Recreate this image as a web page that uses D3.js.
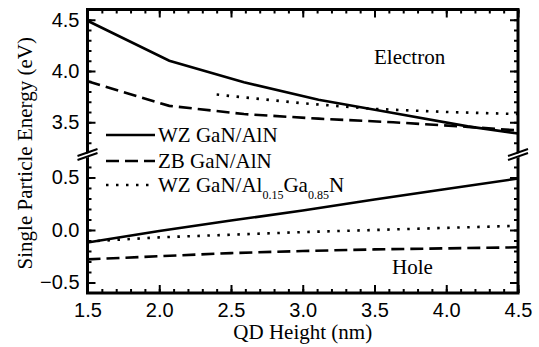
<!DOCTYPE html>
<html>
<head>
<meta charset="utf-8">
<script src="https://cdn.jsdelivr.net/npm/d3@7"></script>
<style>
  body { margin: 0; background: #fff; }
  svg { display: block; }
  .tick text { font-family: "Liberation Sans", Arial, sans-serif; font-size: 20px; fill: #000; }
</style>
</head>
<body>
<div id="chart"></div>
<script>
// QD height (nm) grid of the computed points
const heights = [1.5, 2.07, 2.59, 3.11, 3.63, 4.15, 4.5];
const heightsAlGaN = [2.4, 3.0, 3.5, 4.0, 4.5];

// electron levels (eV)
const wzElectron = [4.49, 4.10, 3.89, 3.72, 3.59, 3.46, 3.39];
const zbElectron = [3.90, 3.66, 3.58, 3.535, 3.50, 3.455, 3.42];
const alganElectron = [3.77, 3.685, 3.63, 3.60, 3.58];

// hole levels (eV)
const heightsHole = [1.5, 2.0, 2.5, 3.0, 3.5, 4.0, 4.5];
const wzHole = [-0.12, -0.01, 0.09, 0.185, 0.29, 0.39, 0.49];
const zbHole = [-0.28, -0.25, -0.22, -0.20, -0.185, -0.175, -0.165];
const alganHole = [-0.11, -0.07, -0.045, -0.02, 0.0, 0.02, 0.04];

const xTicks = [1.5, 2.0, 2.5, 3.0, 3.5, 4.0, 4.5];
const yTicksTop = [3.5, 4.0, 4.5];
const yTicksBot = [-0.5, 0.0, 0.5];

const W = 539, H = 347;
const mLeft = 87.5, mRight = 518, mTop = 9.5, mBottom = 293, brk = 153;
const SERIF = "'Liberation Serif', 'Times New Roman', Times, serif";

const svg = d3.select("#chart").append("svg")
  .attr("width", W)
  .attr("height", H);

const x = d3.scaleLinear().domain([1.5, 4.5]).range([mLeft, mRight]);
const yTop = d3.scaleLinear().domain([3.2, 4.6]).range([brk, mTop]);
const yBot = d3.scaleLinear().domain([-0.6, 0.733]).range([mBottom, brk]);

const minor = (a, b) => d3.range(Math.round(a * 10), Math.round(b * 10) + 1).map(v => v / 10);

// ticks
function tickAxis(axis, tr, size, labels) {
  const g = svg.append("g").attr("transform", tr).call(axis.tickSizeInner(size).tickSizeOuter(0).tickPadding(8));
  g.select(".domain").remove();
  g.selectAll(".tick line").attr("stroke", "#000").attr("stroke-width", 2);
  if (!labels) g.selectAll(".tick text").remove();
  return g;
}

const xMinor = minor(1.5, 4.5);
tickAxis(d3.axisBottom(x).tickValues(xMinor), `translate(0,${mBottom})`, -4, false);
tickAxis(d3.axisBottom(x).tickValues(xTicks).tickFormat(d3.format(".1f")), `translate(0,${mBottom})`, -8, true)
  .selectAll(".tick text").attr("dy", "0.8em");
tickAxis(d3.axisTop(x).tickValues(xMinor), `translate(0,${mTop})`, -4, false);
tickAxis(d3.axisTop(x).tickValues(xTicks), `translate(0,${mTop})`, -8, false);

const topMinor = minor(3.3, 4.5).filter(v => Math.abs(yTop(v) - brk) > 6);
const botMinor = minor(-0.5, 0.7).filter(v => Math.abs(yBot(v) - brk) > 6);
[[yTop, topMinor, yTicksTop], [yBot, botMinor, yTicksBot]].forEach(([s, mn, mj]) => {
  tickAxis(d3.axisLeft(s).tickValues(mn), `translate(${mLeft},0)`, -4, false);
  tickAxis(d3.axisLeft(s).tickValues(mj).tickFormat(d3.format(".1f")), `translate(${mLeft},0)`, -8, true);
  tickAxis(d3.axisRight(s).tickValues(mn), `translate(${mRight},0)`, -4, false);
  tickAxis(d3.axisRight(s).tickValues(mj), `translate(${mRight},0)`, -8, false);
});

// frame
svg.append("rect")
  .attr("x", mLeft).attr("y", mTop)
  .attr("width", mRight - mLeft).attr("height", mBottom - mTop)
  .attr("fill", "none").attr("stroke", "#000").attr("stroke-width", 3);

// series
const styles = {
  solid: null,
  dashed: "13,6",
  dotted: "2.5,7.5"
};
const series = [
  { xs: heights, ys: wzElectron, s: yTop, dash: styles.solid },
  { xs: heights, ys: zbElectron, s: yTop, dash: styles.dashed },
  { xs: heightsAlGaN, ys: alganElectron, s: yTop, dash: styles.dotted },
  { xs: heightsHole, ys: wzHole, s: yBot, dash: styles.solid },
  { xs: heightsHole, ys: zbHole, s: yBot, dash: styles.dashed },
  { xs: heightsHole, ys: alganHole, s: yBot, dash: styles.dotted }
];
series.forEach(d => {
  const line = d3.line().x(p => x(p[0])).y(p => d.s(p[1]));
  svg.append("path")
    .datum(d3.zip(d.xs, d.ys))
    .attr("d", line)
    .attr("fill", "none")
    .attr("stroke", "#000")
    .attr("stroke-width", 2.6)
    .attr("stroke-dasharray", d.dash);
});

// axis breaks
[mLeft, mRight].forEach(ax => {
  svg.append("polygon")
    .attr("points", `${ax - 9},${brk + 4} ${ax + 9},${brk - 3} ${ax + 9},${brk + 1} ${ax - 9},${brk + 8}`)
    .attr("fill", "#fff");
  [0, 4].forEach(o => {
    svg.append("line")
      .attr("x1", ax - 10).attr("y1", brk + 3 + o)
      .attr("x2", ax + 10).attr("y2", brk - 4 + o)
      .attr("stroke", "#000").attr("stroke-width", 2);
  });
});

// legend
const legend = svg.append("g").attr("font-family", SERIF).attr("font-size", 21);
const legendRows = [
  { dash: styles.solid, y: 135 },
  { dash: styles.dashed, y: 161 },
  { dash: styles.dotted, y: 185 }
];
legendRows.forEach(r => {
  legend.append("line")
    .attr("x1", 106).attr("x2", 155).attr("y1", r.y).attr("y2", r.y)
    .attr("stroke", "#000").attr("stroke-width", 2.6)
    .attr("stroke-dasharray", r.dash);
});
legend.append("text").attr("x", 158).attr("y", 142).text("WZ GaN/AlN");
legend.append("text").attr("x", 158).attr("y", 168).text("ZB GaN/AlN");
const t3 = legend.append("text").attr("x", 158).attr("y", 192);
t3.append("tspan").text("WZ GaN/Al");
t3.append("tspan").attr("font-size", 12).attr("dy", 7).text("0.15");
t3.append("tspan").attr("dy", -7).text("Ga");
t3.append("tspan").attr("font-size", 12).attr("dy", 7).text("0.85");
t3.append("tspan").attr("dy", -7).text("N");

// panel labels
svg.append("text").attr("font-family", SERIF).attr("font-size", 21)
  .attr("x", 374).attr("y", 64).text("Electron");
svg.append("text").attr("font-family", SERIF).attr("font-size", 21)
  .attr("x", 392).attr("y", 274).text("Hole");

// axis titles
svg.append("text").attr("font-family", SERIF).attr("font-size", 21)
  .attr("text-anchor", "middle")
  .attr("x", (mLeft + mRight) / 2).attr("y", 339)
  .text("QD Height (nm)");
svg.append("text").attr("font-family", SERIF).attr("font-size", 21)
  .attr("text-anchor", "middle")
  .attr("transform", `translate(32,${(mTop + mBottom) / 2 + 2}) rotate(-90)`)
  .text("Single Particle Energy (eV)");
</script>
</body>
</html>
